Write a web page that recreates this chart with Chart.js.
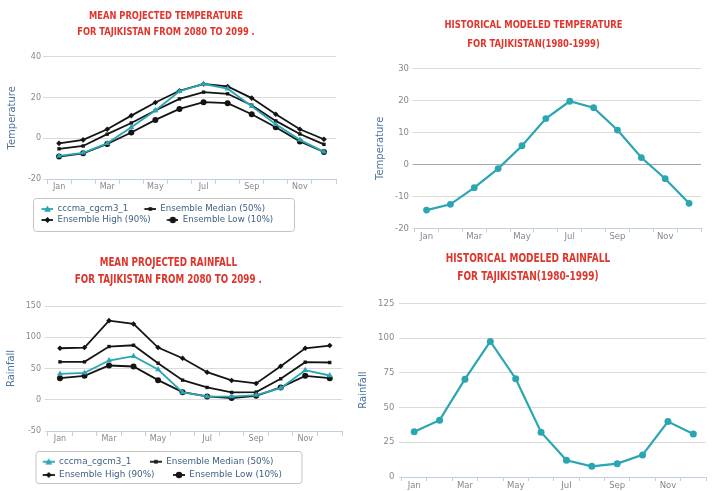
<!DOCTYPE html>
<html>
<head>
<meta charset="utf-8">
<title>Tajikistan climate: projected and historical temperature and rainfall</title>
<script src="https://cdn.jsdelivr.net/npm/chart.js@4/dist/chart.umd.min.js"></script>
<style>
  html, body { margin: 0; padding: 0; background: #ffffff; }
  body { width: 713px; height: 491px; position: relative; overflow: hidden; }
  canvas { position: absolute; }
</style>
</head>
<body>
<canvas id="projTemp" width="340" height="240" style="left:0px;top:0px;width:340px;height:240px"></canvas>
<canvas id="histTemp" width="345" height="245" style="left:360px;top:0px;width:345px;height:245px"></canvas>
<canvas id="projRain" width="346" height="251" style="left:0px;top:240px;width:346px;height:251px"></canvas>
<canvas id="histRain" width="364" height="251" style="left:346px;top:240px;width:364px;height:251px"></canvas>
<script>
// Monthly categories shared by all four charts
const months = ['Jan', 'Feb', 'Mar', 'Apr', 'May', 'Jun', 'Jul', 'Aug', 'Sep', 'Oct', 'Nov', 'Dec'];
const seriesNames = ['cccma_cgcm3_1', 'Ensemble Median (50%)', 'Ensemble High (90%)', 'Ensemble Low (10%)'];

// Mean projected temperature, 2080-2099 (deg C)
const projTempCccma  = [-8.7, -7.2, -2.5, 5.4, 13.6, 23.0, 26.6, 24.3, 15.7, 6.8, -0.8, -6.7];
const projTempMedian = [-5.2, -3.8, 2.0, 7.5, 13.6, 19.3, 22.6, 21.8, 16.2, 8.5, 2.1, -3.0];
const projTempHigh   = [-2.5, -0.8, 4.4, 11.1, 17.5, 23.3, 26.6, 25.4, 19.7, 11.8, 4.4, -0.5];
const projTempLow    = [-9.0, -7.4, -2.8, 2.8, 9.0, 14.4, 17.7, 17.2, 11.8, 5.4, -1.6, -6.7];

// Historical modeled temperature, 1980-1999 (deg C)
const histTemp = [-14.3, -12.5, -7.3, -1.35, 5.8, 14.3, 19.7, 17.7, 10.7, 2.1, -4.5, -12.2];

// Mean projected rainfall, 2080-2099 (mm)
const projRainCccma  = [41.5, 43.1, 62.8, 69.7, 48.4, 11.7, 5.3, 5.0, 7.4, 18.6, 47.3, 38.8];
const projRainMedian = [60.6, 60.6, 85.1, 87.2, 58.5, 31.4, 19.7, 11.7, 12.2, 33.5, 60.1, 59.6];
const projRainHigh   = [82.4, 83.5, 126.6, 121.3, 83.5, 66.5, 44.1, 30.9, 26.1, 53.7, 82.4, 86.7];
const projRainLow    = [34.6, 38.3, 54.8, 53.2, 31.4, 12.2, 5.3, 2.7, 6.4, 19.7, 38.3, 34.6];

// Historical modeled rainfall, 1980-1999 (mm)
const histRain = [32.5, 40.9, 70.4, 97.6, 70.7, 32.2, 12.0, 7.7, 9.6, 15.9, 39.9, 31.0];

// Value-axis tick labels
const projTempTicks = [-20, 0, 20, 40];
const histTempTicks = [-20, -10, 0, 10, 20, 30];
const projRainTicks = [-50, 0, 50, 100, 150];
const histRainTicks = [0, 25, 50, 75, 100, 125];

const TEAL = '#2aa6b3';
const INK = '#141414';
const TITLE_RED = '#e0352c';
const GRID = '#dadada';
const AXIS_LINE = '#c0d0e0';
const LABEL_GRAY = '#888888';
const AXIS_TITLE = '#4d759e';
const LEGEND_TEXT = '#3f5f82';
const TITLE_FONT = "'Liberation Sans Narrow', 'DejaVu Sans Condensed', 'Arial Narrow', sans-serif";
const BODY_FONT = "'DejaVu Sans', Verdana, sans-serif";
const TITLE_SQUEEZE = 0.84;

// Legend symbol: a short line with the series marker on it, preceded by blank room
function legendSymbol(color, shape, r, blank, lineW) {
  const segW = 12;
  const c = document.createElement('canvas');
  c.width = blank + segW;
  c.height = 10;
  const g = c.getContext('2d');
  g.strokeStyle = color;
  g.lineWidth = lineW;
  g.beginPath();
  g.moveTo(blank, 5);
  g.lineTo(blank + segW, 5);
  g.stroke();
  const cx = blank + segW / 2, cy = 5;
  g.fillStyle = color;
  g.beginPath();
  if (shape === 'triangle') {
    g.moveTo(cx, cy - r);
    g.lineTo(cx + r, cy + r * 0.8);
    g.lineTo(cx - r, cy + r * 0.8);
  } else if (shape === 'rect') {
    g.rect(cx - r * 0.75, cy - r * 0.75, r * 1.5, r * 1.5);
  } else if (shape === 'rectRot') {
    g.moveTo(cx, cy - r);
    g.lineTo(cx + r, cy);
    g.lineTo(cx, cy + r);
    g.lineTo(cx - r, cy);
  } else {
    g.arc(cx, cy, r, 0, Math.PI * 2);
  }
  g.closePath();
  g.fill();
  return c;
}

// Narrows the chart title horizontally around its centre (condensed headline look)
const titleSqueeze = {
  id: 'titleSqueeze',
  beforeDraw(chart) {
    const t = chart.titleBlock;
    if (!t || t._squeezed) return;
    const draw = t.draw.bind(t);
    t.draw = function (area) {
      const ctx = this.ctx;
      const cx = (this.left + this.right) / 2;
      ctx.save();
      ctx.translate(cx, 0);
      ctx.scale(TITLE_SQUEEZE, 1);
      ctx.translate(-cx, 0);
      draw(area);
      ctx.restore();
    };
    t._squeezed = true;
  }
};

// Moves the legend under the axis and draws its rounded frame
const legendPlacement = {
  id: 'legendPlacement',
  afterLayout(chart, args, opts) {
    const lg = chart.legend;
    if (!lg || !opts.origin) return;
    const w = lg.width, h = lg.height;
    lg.left = opts.origin.x;
    lg.top = opts.origin.y;
    lg.right = lg.left + w;
    lg.bottom = lg.top + h;
  },
  beforeDraw(chart, args, opts) {
    if (!opts.frame) return;
    const { x, y, w, h } = opts.frame;
    const r = 3;
    const ctx = chart.ctx;
    ctx.save();
    ctx.beginPath();
    ctx.moveTo(x + r, y);
    ctx.lineTo(x + w - r, y);
    ctx.arcTo(x + w, y, x + w, y + r, r);
    ctx.lineTo(x + w, y + h - r);
    ctx.arcTo(x + w, y + h, x + w - r, y + h, r);
    ctx.lineTo(x + r, y + h);
    ctx.arcTo(x, y + h, x, y + h - r, r);
    ctx.lineTo(x, y + r);
    ctx.arcTo(x, y, x + r, y, r);
    ctx.closePath();
    ctx.fillStyle = '#ffffff';
    ctx.fill();
    ctx.strokeStyle = '#c4c4c4';
    ctx.lineWidth = 1;
    ctx.stroke();
    ctx.restore();
  }
};

function buildChart(id, p) {
  const withLegend = p.series.length > 1;
  const ticks = p.ticks;
  const datasets = p.series.map(s => ({
    label: s.name,
    data: s.data,
    borderColor: s.color,
    backgroundColor: s.color,
    borderWidth: p.lineWidth,
    pointStyle: s.shape,
    pointRadius: s.radius,
    pointBorderWidth: 0,
    pointBackgroundColor: s.color,
    tension: 0,
    fill: false,
    clip: false
  }));

  const legendOpts = withLegend ? {
    display: true,
    position: 'bottom',
    align: 'start',
    labels: {
      usePointStyle: true,
      pointStyleWidth: p.legend.blank + 12,
      padding: p.legend.padding,
      color: LEGEND_TEXT,
      font: { family: BODY_FONT, size: p.legend.fontSize },
      generateLabels(chart) {
        return chart.data.datasets.map((ds, i) => ({
          text: ds.label,
          datasetIndex: i,
          hidden: false,
          fillStyle: ds.borderColor,
          strokeStyle: ds.borderColor,
          lineWidth: 0,
          fontColor: LEGEND_TEXT,
          pointStyle: legendSymbol(ds.borderColor, p.series[i].shape, p.series[i].legendRadius, p.legend.blank, 1.8)
        }));
      }
    }
  } : { display: false };

  const plugins = [titleSqueeze];
  if (withLegend) plugins.push(legendPlacement);

  return new Chart(document.getElementById(id), {
    type: 'line',
    data: { labels: months, datasets },
    plugins,
    options: {
      responsive: false,
      animation: false,
      events: [],
      layout: { padding: p.pad },
      plugins: {
        title: {
          display: true,
          text: p.title,
          color: TITLE_RED,
          font: { family: TITLE_FONT, size: p.titleSize, weight: 'bold', lineHeight: p.titleLine + 'px' },
          padding: { top: p.titleTop, bottom: p.titleBottom }
        },
        legend: legendOpts,
        tooltip: { enabled: false },
        legendPlacement: withLegend ? { origin: p.legend.origin, frame: p.legend.frame } : {}
      },
      scales: {
        x: {
          type: 'category',
          offset: true,
          grid: {
            display: true,
            offset: true,
            drawOnChartArea: false,
            drawTicks: true,
            tickLength: p.xTick,
            color: AXIS_LINE
          },
          border: { display: true, color: AXIS_LINE, width: 1 },
          ticks: {
            autoSkip: false,
            maxRotation: 0,
            minRotation: 0,
            padding: p.xPad,
            color: LABEL_GRAY,
            font: { family: BODY_FONT, size: p.tickSize },
            callback: (v, i) => (i % 2 === 0 ? months[i] : '')
          },
          afterFit(scale) { scale.height = p.xHeight; }
        },
        y: {
          min: ticks[0],
          max: ticks[ticks.length - 1],
          ticks: {
            stepSize: ticks[1] - ticks[0],
            padding: p.yPad,
            color: LABEL_GRAY,
            font: { family: BODY_FONT, size: p.tickSize }
          },
          grid: {
            color: ctx => (p.zeroLine && ctx.tick && ctx.tick.value === 0 ? '#a9a9a9' : GRID),
            drawTicks: true,
            tickLength: p.yTick
          },
          border: { display: false },
          title: {
            display: true,
            text: p.axisTitle,
            color: AXIS_TITLE,
            font: { family: BODY_FONT, size: 10 },
            padding: { top: p.yTitlePad, bottom: 0 }
          },
          afterFit(scale) { scale.width = p.yWidth; }
        }
      }
    }
  });
}

function ensembleSeries(cccma, median, high, low) {
  return [
    { name: seriesNames[0], data: cccma,  color: TEAL, shape: 'triangle', radius: 3.4, legendRadius: 3.4 },
    { name: seriesNames[1], data: median, color: INK,  shape: 'rect',     radius: 2.4, legendRadius: 2.4 },
    { name: seriesNames[2], data: high,   color: INK,  shape: 'rectRot',  radius: 2.8, legendRadius: 3.0 },
    { name: seriesNames[3], data: low,    color: INK,  shape: 'circle',   radius: 3.0, legendRadius: 3.2 }
  ];
}

buildChart('projTemp', {
  title: ['MEAN PROJECTED TEMPERATURE', 'FOR TAJIKISTAN FROM 2080 TO 2099 .'],
  titleSize: 11, titleLine: 16, titleTop: 8, titleBottom: 16.7,
  axisTitle: 'Temperature',
  ticks: projTempTicks,
  series: ensembleSeries(projTempCccma, projTempMedian, projTempHigh, projTempLow),
  lineWidth: 1.8,
  pad: { left: -5, right: 3, top: 0, bottom: 7 },
  yWidth: 52, yTick: 4, yPad: 2, yTitlePad: 11.7,
  xHeight: 22, xTick: 5, xPad: -1.5,
  tickSize: 8,
  legend: {
    fontSize: 8.6, padding: 2.4, blank: 13.5,
    origin: { x: 25.3, y: 202.3 },
    frame: { x: 33.5, y: 198.5, w: 261, h: 33 }
  }
});

buildChart('histTemp', {
  title: ['HISTORICAL MODELED TEMPERATURE', 'FOR TAJIKISTAN(1980-1999)'],
  titleSize: 11.15, titleLine: 18.4, titleTop: 16.1, titleBottom: 15.4,
  axisTitle: 'Temperature',
  ticks: histTempTicks,
  series: [{ name: 'Temperature', data: histTemp, color: TEAL, shape: 'circle', radius: 3.4 }],
  lineWidth: 2.2,
  zeroLine: true,
  pad: { left: 2, right: 0, top: 0, bottom: 0 },
  yWidth: 52.6, yTick: 2, yPad: 3.6, yTitlePad: 12,
  xHeight: 16.7, xTick: 4, xPad: -0.4,
  tickSize: 8.5
});

buildChart('projRain', {
  title: ['MEAN PROJECTED RAINFALL', 'FOR TAJIKISTAN FROM 2080 TO 2099 .'],
  titleSize: 11.6, titleLine: 16.7, titleTop: 15, titleBottom: 17.6,
  axisTitle: 'Rainfall',
  ticks: projRainTicks,
  series: ensembleSeries(projRainCccma, projRainMedian, projRainHigh, projRainLow),
  lineWidth: 1.8,
  pad: { left: -6, right: 3.3, top: 0, bottom: 3.4 },
  yWidth: 53.7, yTick: 3, yPad: 3.7, yTitlePad: 11,
  xHeight: 20, xTick: 5, xPad: -1.5,
  tickSize: 8,
  legend: {
    fontSize: 8.8, padding: 4.5, blank: 14,
    origin: { x: 24.2, y: 212.8 },
    frame: { x: 36, y: 211.5, w: 266, h: 32 }
  }
});

buildChart('histRain', {
  title: ['HISTORICAL MODELED RAINFALL', 'FOR TAJIKISTAN(1980-1999)'],
  titleSize: 11.9, titleLine: 17.7, titleTop: 10.15, titleBottom: 17.75,
  axisTitle: 'Rainfall',
  ticks: histRainTicks,
  series: [{ name: 'Rainfall', data: histRain, color: TEAL, shape: 'circle', radius: 3.5 }],
  lineWidth: 2.2,
  pad: { left: 0, right: 0, top: 0, bottom: 0 },
  yWidth: 55.5, yTick: 2.5, yPad: 4.7, yTitlePad: 11,
  xHeight: 14, xTick: 4, xPad: -0.4,
  tickSize: 8.5
});
</script>
</body>
</html>
